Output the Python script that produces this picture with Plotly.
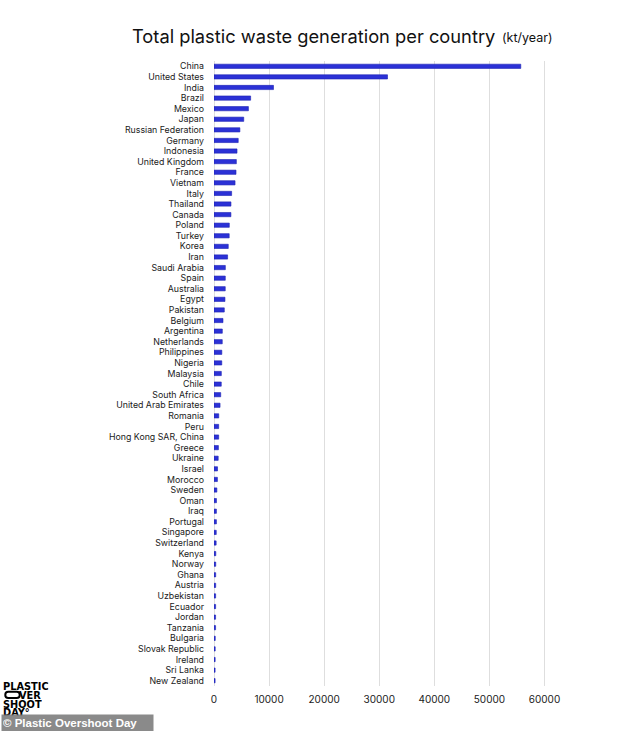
import plotly.graph_objects as go

countries = [
    "China", "United States", "India", "Brazil", "Mexico", "Japan", "Russian Federation",
    "Germany", "Indonesia", "United Kingdom", "France", "Vietnam", "Italy", "Thailand",
    "Canada", "Poland", "Turkey", "Korea", "Iran", "Saudi Arabia", "Spain", "Australia",
    "Egypt", "Pakistan", "Belgium", "Argentina", "Netherlands", "Philippines", "Nigeria",
    "Malaysia", "Chile", "South Africa", "United Arab Emirates", "Romania", "Peru",
    "Hong Kong SAR, China", "Greece", "Ukraine", "Israel", "Morocco", "Sweden", "Oman",
    "Iraq", "Portugal", "Singapore", "Switzerland", "Kenya", "Norway", "Ghana", "Austria",
    "Uzbekistan", "Ecuador", "Jordan", "Tanzania", "Bulgaria", "Slovak Republic",
    "Ireland", "Sri Lanka", "New Zealand",
]
waste_kt = [
    55700, 31500, 10800, 6650, 6250, 5400, 4700,
    4400, 4180, 4060, 4000, 3820, 3200, 3080,
    3070, 2780, 2760, 2590, 2470, 2060, 2050, 2040,
    1990, 1870, 1630, 1510, 1500, 1420, 1410,
    1330, 1320, 1220, 1100, 860, 850,
    850, 800, 760, 640, 620, 520, 450,
    440, 440, 410, 390, 330, 320, 310, 310,
    300, 300, 290, 290, 230, 220,
    210, 200, 200,
]
x_ticks = [0, 10000, 20000, 30000, 40000, 50000, 60000]

W, H = 634, 731
L, R, T, B = 213.7, 72.5, 61, 45
PW, PH = W - L - R, H - T - B


def px(x):
    return (x - L) / PW


def py(y):
    return (H - y - B) / PH


fig = go.Figure(go.Bar(
    x=waste_kt, y=countries, orientation="h",
    marker=dict(color="#2b31d6", line=dict(color="#1e23b4", width=0.6)),
    hoverinfo="x+y",
))

fig.update_layout(
    width=W, height=H, autosize=False,
    margin=dict(l=L, r=R, t=T, b=B, pad=0),
    paper_bgcolor="white", plot_bgcolor="white",
    bargap=0.6, showlegend=False,
    font=dict(family="Inter, Roboto, sans-serif", color="#1a1a1a"),
)
fig.update_xaxes(
    range=[0, 63000], tickvals=x_ticks, ticktext=[str(v) for v in x_ticks],
    showgrid=True, gridcolor="#dedede", gridwidth=1,
    zeroline=True, zerolinecolor="#dedede", zerolinewidth=1,
    showline=False, ticks="", tickfont=dict(size=10, color="#1a1a1a"),
    ticklabelstandoff=6,
)
fig.update_yaxes(
    autorange="reversed", showgrid=False, showline=False, ticks="",
    tickmode="array", tickvals=countries, ticktext=countries,
    tickfont=dict(size=8.8, color="#1a1a1a"), ticklabelstandoff=9,
)

# Title
fig.add_annotation(
    text="Total plastic waste generation per country", xref="paper", yref="paper",
    x=px(130), y=py(36), xanchor="left", yanchor="middle", showarrow=False,
    font=dict(size=18.3, color="#111", family="Inter, sans-serif"),
)
fig.add_annotation(
    text="(kt/year)", xref="paper", yref="paper",
    x=px(500), y=py(37), xanchor="left", yanchor="middle", showarrow=False,
    font=dict(size=12.5, color="#111", family="Inter, sans-serif"),
)

# Logo
logo_font = dict(size=9.8, color="black", family="DejaVu Sans, sans-serif")
for txt, yy, xx in [("<b>PLASTIC</b>", 686, 1.5), ("<b>VER</b>", 695, 17.5),
                    ("<b>SHOOT</b>", 704.3, 1.5), ("<b>DAY°</b>", 713, 1.5)]:
    fig.add_annotation(text=txt, xref="paper", yref="paper", x=px(xx), y=py(yy),
                       xanchor="left", yanchor="middle", showarrow=False, font=logo_font,
                       borderpad=0, height=9)
# pill-shaped "O"
x0, x1, ya, yb = px(4.5), px(19), py(691.8), py(698)
xr = (px(8) - px(5))
ym = (ya + yb) / 2
pill = (f"M {x0 + xr},{ya} L {x1 - xr},{ya} Q {x1},{ya} {x1},{ym} Q {x1},{yb} {x1 - xr},{yb} "
        f"L {x0 + xr},{yb} Q {x0},{yb} {x0},{ym} Q {x0},{ya} {x0 + xr},{ya} Z")
fig.add_shape(type="path", path=pill, xref="paper", yref="paper",
              line=dict(color="black", width=2), fillcolor="white", layer="above")

# Credit box
fig.add_annotation(
    text="<b>© Plastic Overshoot Day</b>", xref="paper", yref="paper",
    x=px(0), y=py(723), xanchor="left", yanchor="middle", showarrow=False,
    width=149, align="left", height=14, borderpad=1,
    bgcolor="rgba(128,128,128,0.92)",
    font=dict(size=11.5, color="white", family="Liberation Sans, Arial, sans-serif"),
)

fig.write_html("out.html")
